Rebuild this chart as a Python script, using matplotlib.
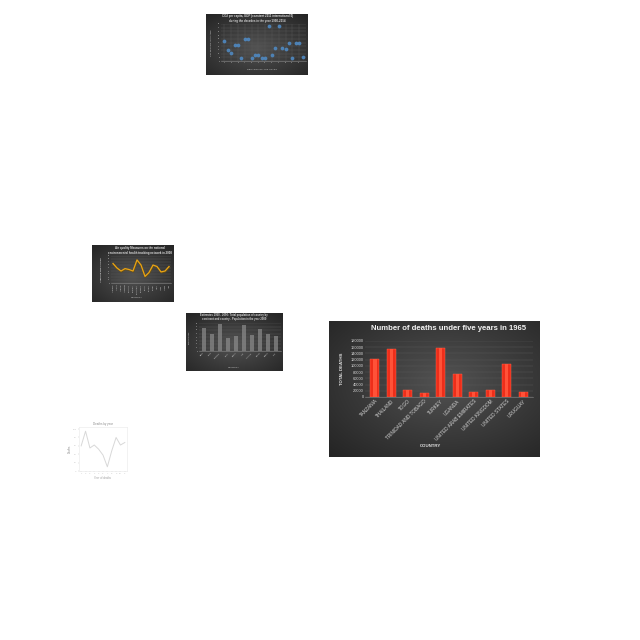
import numpy as np
import matplotlib.pyplot as plt
from matplotlib.colors import LinearSegmentedColormap

plt.rcParams['font.family'] = ['Liberation Sans', 'DejaVu Sans']

# --- main chart: deaths under five in 1965 ---
paises = ['TANZANIA', 'THAILAND', 'TOGO', 'TRINIDAD AND TOBAGO', 'TURKEY', 'UGANDA',
          'UNITED ARAB EMIRATES', 'UNITED KINGDOM', 'UNITED STATES', 'URUGUAY']
mortes = [122000, 154000, 21000, 13000, 157000, 75000, 16000, 23500, 105000, 16000]

# --- thumbnail 1: scatter ---
disp_x = list(range(1, 25))
disp_y = [44, 24, 18, 34, 34, 7, 48, 48, 7, 13, 13, 7, 7, 75, 13, 29, 75, 29, 25, 38, 7, 40, 38, 9]

# --- thumbnail 2: orange line ---
ar_cidades = ['Alabama', 'Alaska', 'Arizona', 'Arkansas', 'California', 'Colorado', 'Connecticut',
              'Delaware', 'Florida', 'Georgia', 'Hawaii', 'Idaho', 'Illinois', 'Indiana', 'Iowa']
ar_valores = [65, 50, 40, 48, 45, 40, 77, 60, 22, 35, 60, 55, 37, 40, 55]

# --- thumbnail 3: gray bars ---
pop_paises = ['Brazil', 'China', 'Colombia', 'Egypt', 'France', 'India', 'Indonesia',
              'Mexico', 'Nigeria', 'Peru']
pop_valores = [67, 50, 77, 38, 42, 73, 47, 62, 50, 42]

# --- thumbnail 4: white line plot ---
linha_x = list(range(1, 12))
linha_y = [60, 95, 55, 62, 52, 38, 10, 48, 80, 62, 68]

W = 640


def ret(x0, y0, x1, y1):
    return [x0 / W, 1 - y1 / W, (x1 - x0) / W, (y1 - y0) / W]


cmap_fundo = LinearSegmentedColormap.from_list('fundo', ['#525252', '#3a3a3a', '#242424'])


def painel(fig, x0, y0, x1, y1, cx=0.5, cy=0.45):
    ax = fig.add_axes(ret(x0, y0, x1, y1))
    gx, gy = np.meshgrid(np.linspace(0, 1, 200), np.linspace(0, 1, 200))
    r = np.sqrt((gx - cx) ** 2 + (gy - cy) ** 2)
    ax.imshow(r, cmap=cmap_fundo, aspect='auto', extent=[0, 1, 0, 1], origin='lower')
    ax.axis('off')
    return ax


def estilo_escuro(ax, tam=3):
    ax.set_facecolor('none')
    for s in ['top', 'right', 'left']:
        ax.spines[s].set_visible(False)
    ax.spines['bottom'].set_color('#8a8a8a')
    ax.spines['bottom'].set_linewidth(0.4)
    ax.tick_params(colors='#d4d4d4', labelsize=tam, length=0, pad=1)
    ax.yaxis.grid(True, color='#5a5a5a', linewidth=0.3)
    ax.set_axisbelow(True)


fig = plt.figure(figsize=(6.4, 6.4), dpi=100)
fig.patch.set_facecolor('white')

# main chart
painel(fig, 329, 321, 540, 457, cx=0.55, cy=0.55)
ax = fig.add_axes(ret(365, 341, 533, 397))
estilo_escuro(ax, tam=2.9)
x = np.arange(len(paises))
ax.bar(x, mortes, width=0.55, color='#ee2e1a', edgecolor='#ff6a50', linewidth=0.3, zorder=3)
ax.bar(x, mortes, width=0.2, color='#ff5238', linewidth=0, zorder=4)
ax.set_ylim(0, 180000)
ax.set_yticks(range(0, 180001, 20000))
ax.set_xlim(-0.6, len(paises) - 0.4)
ax.set_xticks(x)
ax.set_xticklabels(paises, rotation=45, ha='right', rotation_mode='anchor', fontsize=3.4)
ax.set_ylabel('TOTAL DEATHS', color='#e0e0e0', fontsize=3.2, fontweight='bold', labelpad=5)
fig.text(449 / W, 1 - 329 / W, 'Number of deaths under five years in 1965', color='#f2f2f2',
         fontsize=5.6, fontweight='bold', ha='center', va='center')
fig.text(431 / W, 1 - 446 / W, 'COUNTRY', color='#e0e0e0', fontsize=3.2, fontweight='bold',
         ha='center', va='center')

# thumbnail 1: scatter
painel(fig, 206, 14, 308, 75)
ax = fig.add_axes(ret(221, 24, 306, 61))
estilo_escuro(ax, tam=1.4)
ax.xaxis.grid(True, color='#5a5a5a', linewidth=0.3)
ax.scatter(disp_x, disp_y, s=3, color='#4f88c0', alpha=0.85, zorder=3)
ax.set_xlim(0, 25)
ax.set_ylim(0, 80)
ax.set_yticks(range(0, 81, 8))
ax.set_xticks(disp_x[::2])
ax.set_ylabel('CO2 emissions (metric tons)', color='#cfcfcf', fontsize=1.5)
fig.text(257 / W, 1 - 18.5 / W, 'CO2 per capita, GDP (constant 2011 international $)\n'
         'during the decades in the year 1990-2014', color='#d8d8d8', fontsize=2.1,
         ha='center', va='center', fontweight='bold')
fig.text(262 / W, 1 - 69 / W, 'DECADES OF THE YEARS', color='#c8c8c8', fontsize=1.7,
         ha='center', va='center')

# thumbnail 2: orange line
painel(fig, 92, 245, 174, 302)
ax = fig.add_axes(ret(111, 256, 171, 283))
estilo_escuro(ax, tam=1.4)
xl = np.arange(len(ar_cidades))
ax.plot(xl + 0.08, np.array(ar_valores) - 2, color='#6a5010', linewidth=1.2, zorder=2)
ax.plot(xl, ar_valores, color='#e8a317', linewidth=0.9, zorder=3)
ax.set_ylim(0, 90)
ax.set_yticks(range(0, 91, 10))
ax.set_xlim(-0.5, len(ar_cidades) - 0.5)
ax.set_xticks(xl)
ax.set_xticklabels(ar_cidades, rotation=90)
ax.set_ylabel('AVERAGE PM2.5 (ug/m3)', color='#cfcfcf', fontsize=1.5, fontweight='bold')
fig.text(140 / W, 1 - 250.5 / W, 'Air quality Measures on the national\n'
         'environmental health tracking network in 2008', color='#e0e0e0', fontsize=2.1,
         ha='center', va='center', fontweight='bold')
fig.text(137 / W, 1 - 297 / W, 'COUNTRY', color='#c8c8c8', fontsize=1.7, ha='center', va='center')

# thumbnail 3: gray bars
painel(fig, 186, 313, 283, 371)
ax = fig.add_axes(ret(199, 323, 281, 351))
estilo_escuro(ax, tam=1.4)
xb = np.arange(len(pop_paises))
ax.bar(xb, pop_valores, width=0.45, color='#8c8c8c', alpha=0.7, zorder=3)
ax.set_ylim(0, 80)
ax.set_yticks(range(0, 81, 10))
ax.set_xlim(-0.6, len(pop_paises) - 0.4)
ax.set_xticks(xb)
ax.set_xticklabels(pop_paises, rotation=45, ha='right', rotation_mode='anchor')
ax.set_ylabel('POPULATION', color='#cfcfcf', fontsize=1.5)
fig.text(234 / W, 1 - 317 / W, 'Estimates 1960 - 2050: Total population of country by\n'
         'continent and country - Population in the year 2000', color='#d8d8d8', fontsize=1.9,
         ha='center', va='center', fontweight='bold')
fig.text(234 / W, 1 - 367 / W, 'COUNTRY', color='#c8c8c8', fontsize=1.7, ha='center', va='center')

# thumbnail 4: white line plot
ax = fig.add_axes(ret(79, 427, 127, 471))
ax.plot(linha_x, linha_y, color='#d8d8d8', linewidth=0.7)
ax.set_xlim(0.5, 11.5)
ax.set_ylim(0, 105)
for s in ax.spines.values():
    s.set_color('#e8e8e8')
    s.set_linewidth(0.4)
ax.tick_params(colors='#c4c4c4', labelsize=1.7, length=0.8, width=0.3, pad=0.8)
ax.set_yticks(range(0, 101, 20))
ax.set_xticks(linha_x)
ax.set_title('Deaths by year', fontsize=2.1, color='#888888', pad=1.5)
ax.set_xlabel('Year of deaths', fontsize=1.9, color='#a0a0a0', labelpad=1)
ax.set_ylabel('Deaths', fontsize=1.9, color='#888888', labelpad=1)

plt.savefig('out.png', dpi=100, facecolor='white')
